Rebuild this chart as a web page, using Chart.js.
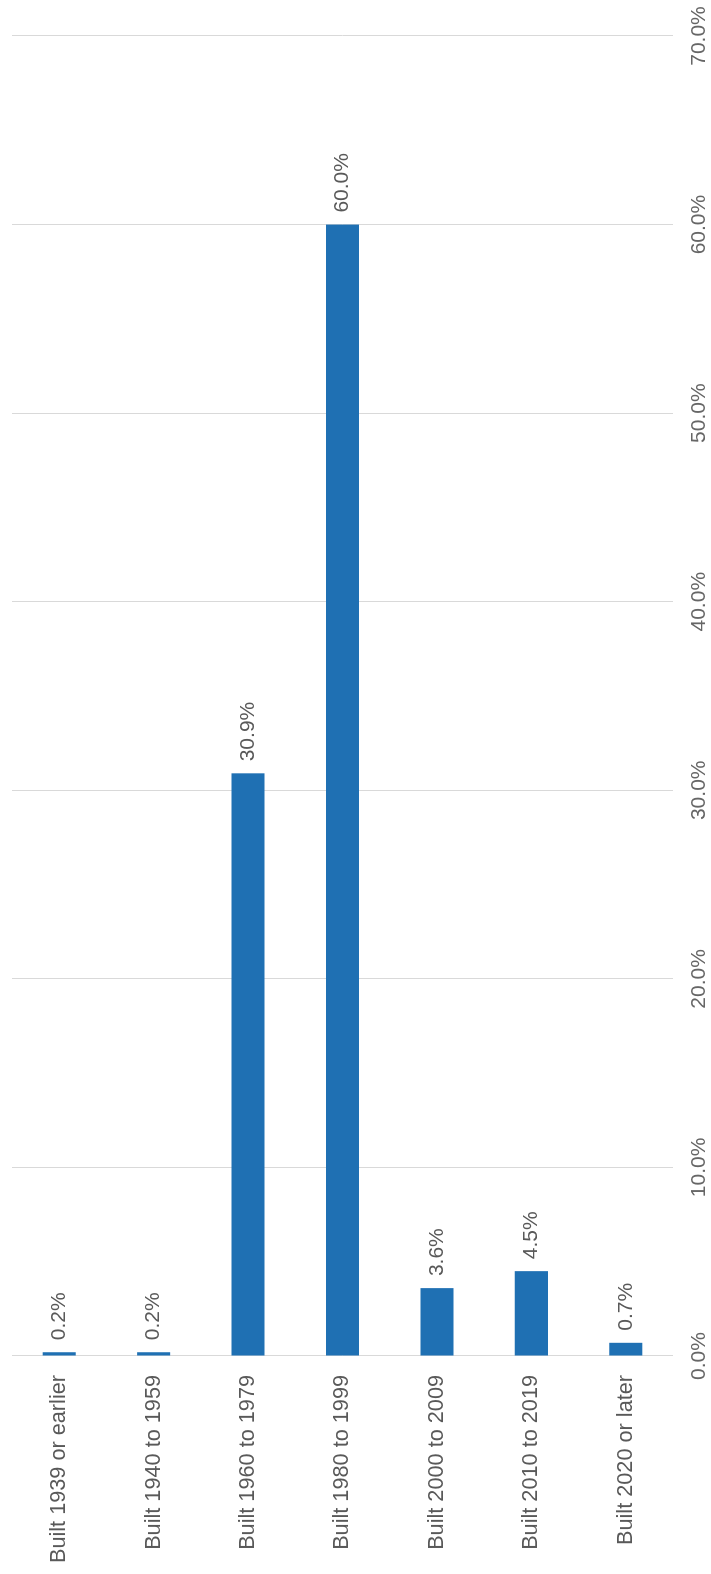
<!DOCTYPE html>
<html>
<head>
<meta charset="utf-8">
<script src="https://cdn.jsdelivr.net/npm/chart.js@4.4.1/dist/chart.umd.min.js"></script>
<style>
  html, body { margin: 0; padding: 0; background: #ffffff; overflow: hidden; }
  body { width: 711px; height: 1574px; position: relative; }
  /* the chart is laid out as a horizontal bar chart and turned a quarter turn */
  #wrap {
    position: absolute; left: 0; top: 0;
    width: 1574px; height: 711px;
    transform-origin: 0 0;
    transform: translate(0, 1574px) rotate(-90deg);
  }
  canvas { display: block; }
</style>
</head>
<body>
<div id="wrap"><canvas id="chart" width="1574" height="711"></canvas></div>
<script>
const categories = [
  'Built 1939 or earlier',
  'Built 1940 to 1959',
  'Built 1960 to 1979',
  'Built 1980 to 1999',
  'Built 2000 to 2009',
  'Built 2010 to 2019',
  'Built 2020 or later'
];
const shares = [0.2, 0.2, 30.9, 60.0, 3.6, 4.5, 0.7];
const axisMin = 0;
const axisMax = 70;
const axisStep = 10;

const FONT = '"Liberation Sans", Arial, Helvetica, sans-serif';
const pct = v => Number(v).toFixed(1) + '%';

// writes each bar's value just past its end
const barValueLabels = {
  id: 'barValueLabels',
  afterDatasetsDraw(chart) {
    const ctx = chart.ctx;
    const meta = chart.getDatasetMeta(0);
    ctx.save();
    ctx.font = '21px ' + FONT;
    ctx.fillStyle = '#595959';
    ctx.textAlign = 'left';
    ctx.textBaseline = 'middle';
    meta.data.forEach((bar, i) => {
      ctx.fillText(pct(shares[i]), bar.x + 12, bar.y);
    });
    ctx.restore();
  }
};

new Chart(document.getElementById('chart'), {
  type: 'bar',
  data: {
    labels: categories,
    datasets: [{
      data: shares,
      backgroundColor: '#1f70b3',
      borderWidth: 0,
      barPercentage: 0.35,
      categoryPercentage: 1.0
    }]
  },
  options: {
    indexAxis: 'y',
    responsive: false,
    animation: false,
    devicePixelRatio: 1,
    layout: { padding: { top: 12, right: 36, bottom: 0, left: 0 } },
    plugins: {
      legend: { display: false },
      tooltip: { enabled: false }
    },
    scales: {
      x: {
        position: 'bottom',
        min: axisMin,
        max: axisMax,
        border: { display: false },
        grid: { color: '#d9d9d9', lineWidth: 1, drawTicks: false },
        ticks: {
          stepSize: axisStep,
          padding: 14,
          color: '#666666',
          font: { family: FONT, size: 21 },
          callback: v => pct(v)
        },
        afterFit(scale) {
          scale.height = 38;
          scale.paddingLeft = 0;
          scale.paddingRight = 0;
        }
      },
      y: {
        position: 'left',
        border: { display: false },
        grid: { display: false, drawTicks: false },
        ticks: {
          padding: 19,
          color: '#595959',
          font: { family: FONT, size: 21.7 }
        },
        afterFit(scale) {
          scale.width = 218;
          scale.paddingTop = 0;
          scale.paddingBottom = 0;
        }
      }
    }
  },
  plugins: [barValueLabels]
});
</script>
</body>
</html>
